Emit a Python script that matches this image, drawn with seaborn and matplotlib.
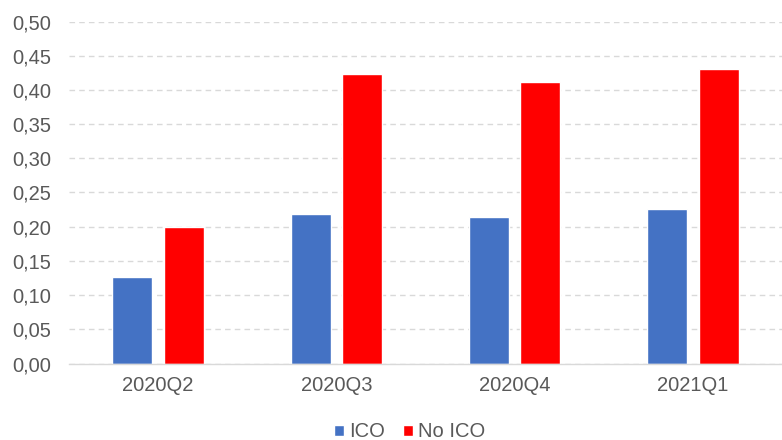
import pandas as pd
import seaborn as sns
import matplotlib.pyplot as plt
from matplotlib.ticker import FuncFormatter, MultipleLocator

# data
quarters = ['2020Q2', '2020Q3', '2020Q4', '2021Q1']
ico = [0.126, 0.219, 0.214, 0.226]
no_ico = [0.199, 0.423, 0.412, 0.430]

df = pd.DataFrame({
    'quarter': quarters * 2,
    'value': ico + no_ico,
    'group': ['ICO'] * 4 + ['No ICO'] * 4,
})

sns.set_theme(style='white')
plt.rcParams['font.family'] = ['Liberation Sans', 'DejaVu Sans']

fig = plt.figure(figsize=(7.82, 4.4), dpi=100)
ax = fig.add_axes([69 / 782, 76.5 / 440, 713 / 782, 342 / 440])

sns.barplot(data=df, x='quarter', y='value', hue='group',
            palette={'ICO': '#4472C4', 'No ICO': '#FF0000'}, saturation=1,
            width=0.576, gap=0.22, ax=ax, legend=True)

ax.set_xlim(-0.5, 3.5)
ax.set_ylim(0, 0.5)
ax.yaxis.set_major_locator(MultipleLocator(0.05))
ax.yaxis.set_major_formatter(FuncFormatter(lambda v, p: f'{v:.2f}'.replace('.', ',')))
ax.grid(axis='y', color='#D9D9D9', linestyle=(0, (4, 3)), linewidth=1)
ax.set_axisbelow(True)
for s in ['top', 'right', 'left']:
    ax.spines[s].set_visible(False)
ax.spines['bottom'].set_color('#D9D9D9')
ax.spines['bottom'].set_linewidth(1)
ax.tick_params(axis='both', length=0, labelsize=14.5, colors='#595959')
ax.tick_params(axis='y', pad=13)
ax.tick_params(axis='x', pad=9)
ax.set_xlabel('')
ax.set_ylabel('')

leg = ax.legend(loc='center', bbox_to_anchor=(0.478, -0.2), ncol=2, frameon=False,
                fontsize=14.5, handlelength=0.5, handleheight=0.5, handletextpad=0.25,
                columnspacing=0.9)
for t in leg.get_texts():
    t.set_color('#595959')

fig.savefig('out.png', dpi=100)
